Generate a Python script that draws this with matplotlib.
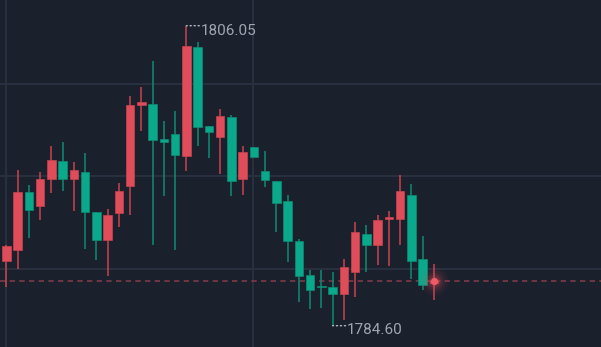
##-Imports
import numpy as np
import matplotlib
matplotlib.use('Agg')
import matplotlib.pyplot as plt


##-Data
opens  = [1789.23, 1790.03, 1794.14, 1793.16, 1795.11, 1796.36, 1795.11, 1795.57, 1792.71, 1790.73,
          1792.64, 1794.59, 1800.38, 1800.47, 1797.97, 1798.33, 1796.73, 1804.51, 1798.86, 1798.07,
          1799.50, 1795.11, 1797.36, 1795.64, 1794.93, 1793.50, 1790.66, 1788.23, 1787.44, 1787.35,
          1786.89, 1788.42, 1791.18, 1790.37, 1792.25, 1792.25, 1793.95, 1789.39, 1787.65]
highs  = [1790.37, 1795.73, 1794.66, 1795.57, 1797.45, 1797.71, 1796.28, 1796.93, 1792.71, 1792.97,
          1794.78, 1801.00, 1801.65, 1803.53, 1799.24, 1799.95, 1806.05, 1804.86, 1798.86, 1800.12,
          1799.67, 1797.45, 1797.36, 1797.09, 1794.93, 1793.95, 1790.82, 1788.58, 1788.58, 1788.42,
          1789.37, 1791.99, 1791.80, 1792.52, 1792.78, 1795.38, 1794.75, 1791.01, 1789.01]
lows   = [1787.35, 1788.68, 1790.89, 1792.18, 1794.11, 1794.21, 1792.80, 1790.11, 1789.32, 1788.15,
          1791.64, 1792.52, 1798.52, 1790.37, 1793.87, 1790.01, 1795.66, 1797.45, 1796.57, 1795.47,
          1793.90, 1793.97, 1796.66, 1794.50, 1791.28, 1789.13, 1786.27, 1785.82, 1785.89, 1784.60,
          1785.04, 1786.63, 1788.42, 1788.96, 1788.87, 1790.39, 1787.96, 1787.17, 1786.46]
closes = [1790.30, 1794.14, 1792.89, 1795.09, 1796.45, 1795.11, 1795.73, 1792.71, 1790.75, 1792.52,
          1794.21, 1800.38, 1800.57, 1797.90, 1797.73, 1796.81, 1804.60, 1798.79, 1798.43, 1799.59,
          1794.95, 1797.00, 1796.66, 1795.04, 1793.35, 1790.66, 1788.15, 1787.17, 1787.35, 1786.89,
          1788.78, 1791.28, 1790.37, 1792.16, 1792.35, 1794.21, 1789.23, 1787.53, 1787.80]

grid_prices = [1801.88, 1795.30, 1788.65]
grid_bars = [0, 22]

##-Style
bg = '#1b202d'
up_col = '#de4d59'
down_col = '#0ba98b'
up_wick = '#c9434f'
down_wick = '#0c8c73'
grid_col = '#283040'
label_col = '#a0a6b1'

##-Plot
fig = plt.figure(figsize=(6.01, 3.47), dpi=100, facecolor=bg)
ax = fig.add_axes([0, 0, 1, 1])
ax.set_facecolor(bg)
ax.set_xlim(-0.56, 52.86)
ax.set_ylim(1783.08, 1807.89)
ax.axis('off')

#---grid
for p in grid_prices:
    ax.axhline(p, color=grid_col, lw=1.5, zorder=0)
for b in grid_bars:
    ax.axvline(b - 0.07, color=grid_col, lw=1.5, zorder=0)

#---candles
x = np.arange(len(opens))
o = np.array(opens)
c = np.array(closes)
up = c >= o
body_bottom = np.minimum(o, c)
body_h = np.maximum(np.abs(c - o), 0.09)
body_cols = [up_col if u else down_col for u in up]
wick_cols = [up_wick if u else down_wick for u in up]

ax.vlines(x, lows, highs, colors=wick_cols, lw=1.1, zorder=2)
ax.bar(x, body_h, bottom=body_bottom, width=0.76, color=body_cols,
       edgecolor=wick_cols, linewidth=0.5, zorder=3)

#---last price line + glow
last = closes[-1]
ax.axhline(last, color='#7d3a47', lw=1.2, ls=(0, (3.2, 2.6)), zorder=1)
for s, a in [(420, 0.05), (260, 0.08), (150, 0.12), (80, 0.18)]:
    ax.scatter([x[-1]], [last], s=s, color=up_col, alpha=a, lw=0, zorder=4)
ax.scatter([x[-1]], [last], s=28, color='#ee5a66', lw=0, zorder=5)

#---high / low labels
hi_i = int(np.argmax(highs))
lo_i = int(np.argmin(lows))
for i, val, dy in [(hi_i, highs[hi_i], -5), (lo_i, lows[lo_i], -4)]:
    ax.annotate('', xy=(i, val), xytext=(13, 0), textcoords='offset pixels',
                arrowprops=dict(arrowstyle='-', color='#c8ccd4', lw=0.9, ls=(0, (1, 2.2)),
                                shrinkA=0, shrinkB=0))
    ax.annotate(f'{val:.2f}', xy=(i, val), xytext=(14, dy), textcoords='offset pixels',
                color=label_col, fontsize=11, family='Roboto', va='center', ha='left')

plt.savefig('out.png', dpi=100, facecolor=bg)
